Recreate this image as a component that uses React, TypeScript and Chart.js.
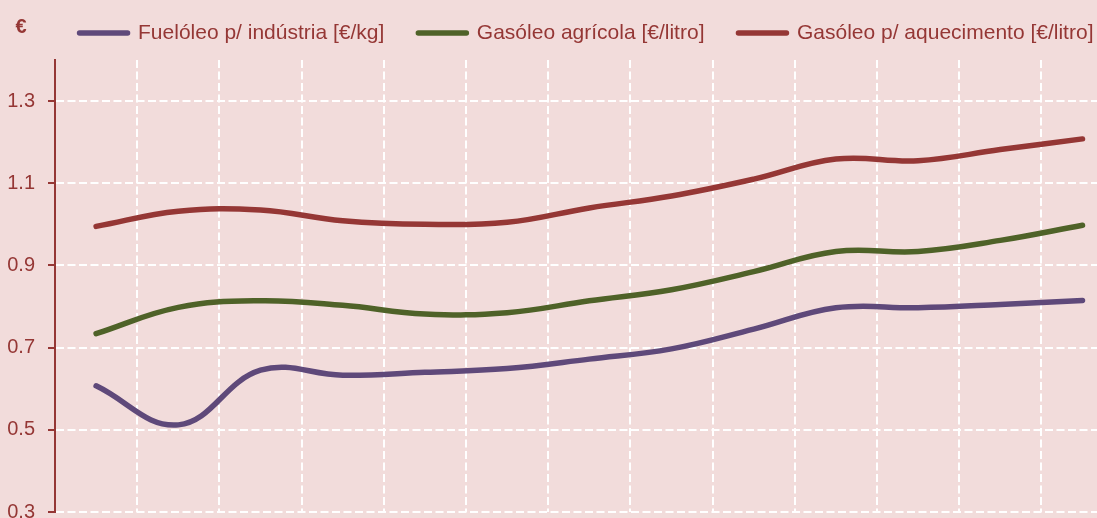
import React, { useEffect, useRef } from 'react';
import { Chart, registerables } from 'chart.js';

Chart.register(...registerables);

// ---- data ----
const categories = ['jan', 'fev', 'mar', 'abr', 'mai', 'jun', 'jul', 'ago', 'set', 'out', 'nov', 'dez', 'jan'];
const fueloleoIndustria = [0.607, 0.512, 0.645, 0.633, 0.640, 0.649, 0.672, 0.697, 0.745, 0.797, 0.797, 0.805, 0.815];
const gasoleoAgricola = [0.734, 0.798, 0.814, 0.803, 0.782, 0.785, 0.814, 0.841, 0.885, 0.934, 0.934, 0.961, 0.998];
const gasoleoAquecimento = [0.995, 1.032, 1.035, 1.009, 1.0, 1.005, 1.04, 1.069, 1.11, 1.159, 1.155, 1.182, 1.208];
const yTickValues = [0.3, 0.5, 0.7, 0.9, 1.1, 1.3];
const seriesLabels = ['Fuelóleo p/ indústria [€/kg]', 'Gasóleo agrícola [€/litro]', 'Gasóleo p/ aquecimento [€/litro]'];
const seriesColors = ['#5f497a', '#4f6228', '#953735'];
const unitLabel = '€';

const TEXT_COLOR = '#953735';
const BG = '#f2dcdb';
const FONT = 'Liberation Sans, Arial, sans-serif';
const CANVAS_W = 1173;
const CANVAS_H = 560;

export default function App() {
  const ref = useRef<HTMLCanvasElement | null>(null);

  useEffect(() => {
    if (!ref.current) return;
    const series = [fueloleoIndustria, gasoleoAgricola, gasoleoAquecimento];

    const legendSpacer = {
      id: 'legendSpacer',
      beforeLayout(chart: any) {
        const lg = chart.legend;
        if (lg && !lg.__patched) {
          const orig = lg.fit;
          lg.fit = function () {
            orig.call(this);
            this.height = 71.5;
          };
          lg.__patched = true;
        }
      },
    };

    const unitPlugin = {
      id: 'unitPlugin',
      afterDraw(chart: any) {
        const { ctx, chartArea } = chart;
        ctx.save();
        ctx.font = `bold 20px ${FONT}`;
        ctx.fillStyle = TEXT_COLOR;
        ctx.textAlign = 'center';
        ctx.textBaseline = 'middle';
        ctx.fillText(unitLabel, chartArea.left - 34, 27);
        ctx.restore();
      },
    };

    const chart = new Chart(ref.current, {
      type: 'line',
      data: {
        labels: categories,
        datasets: series.map((d, i) => ({
          label: seriesLabels[i],
          data: d,
          borderColor: seriesColors[i],
          backgroundColor: seriesColors[i],
          pointBorderColor: seriesColors[i],
          pointBackgroundColor: seriesColors[i],
          pointBorderWidth: 5,
          borderWidth: 5.5,
          borderCapStyle: 'round',
          borderJoinStyle: 'round',
          pointRadius: 0,
          pointHoverRadius: 0,
          tension: 0.4,
          fill: false,
        })),
      },
      options: {
        responsive: false,
        animation: false,
        devicePixelRatio: 1,
        layout: { padding: { top: -11.5, left: 0, right: 0, bottom: 48 } },
        plugins: {
          tooltip: { enabled: false },
          legend: {
            position: 'top',
            align: 'center',
            labels: {
              usePointStyle: true,
              pointStyle: 'line',
              pointStyleWidth: 48,
              padding: 34,
              color: TEXT_COLOR,
              font: { family: FONT, size: 21 },
              generateLabels: (c: any) =>
                Chart.defaults.plugins.legend.labels
                  .generateLabels(c)
                  .map((l: any) => ({ ...l, lineCap: 'round', lineWidth: 5.5 })),
            },
          },
        },
        scales: {
          x: {
            offset: true,
            grid: {
              display: true,
              offset: true,
              color: '#ffffff',
              lineWidth: 2,
              drawTicks: false,
            },
            border: { display: false, dash: [8, 3.5] },
            ticks: { display: false },
          },
          y: {
            min: 0.3,
            max: 1.4,
            afterBuildTicks: (s: any) => {
              s.ticks = yTickValues.map((v) => ({ value: v }));
            },
            afterFit: (s: any) => {
              s.width = 55;
            },
            grid: {
              color: '#ffffff',
              lineWidth: 2,
              drawTicks: true,
              tickLength: 7,
              tickColor: TEXT_COLOR,
              tickWidth: 2,
              tickBorderDash: [],
            },
            border: { display: true, color: TEXT_COLOR, width: 2, dash: [8, 3.5] },
            ticks: {
              color: TEXT_COLOR,
              padding: 13,
              font: { family: FONT, size: 20 },
              callback: (v: any) => Number(v).toFixed(1),
            },
          },
          y2: {
            position: 'right',
            display: true,
            grid: { display: false, drawOnChartArea: false, drawTicks: false },
            border: { display: false },
            ticks: { display: false },
            afterFit: (s: any) => {
              s.width = CANVAS_W - 1123.6;
            },
          },
        },
      } as any,
      plugins: [legendSpacer, unitPlugin],
    });

    return () => chart.destroy();
  }, []);

  return (
    <div
      style={{
        position: 'absolute',
        left: 0,
        top: 0,
        width: 1097,
        height: 518,
        overflow: 'hidden',
        background: BG,
      }}
    >
      <canvas
        ref={ref}
        width={CANVAS_W}
        height={CANVAS_H}
        style={{ display: 'block', width: CANVAS_W, height: CANVAS_H }}
      />
    </div>
  );
}
